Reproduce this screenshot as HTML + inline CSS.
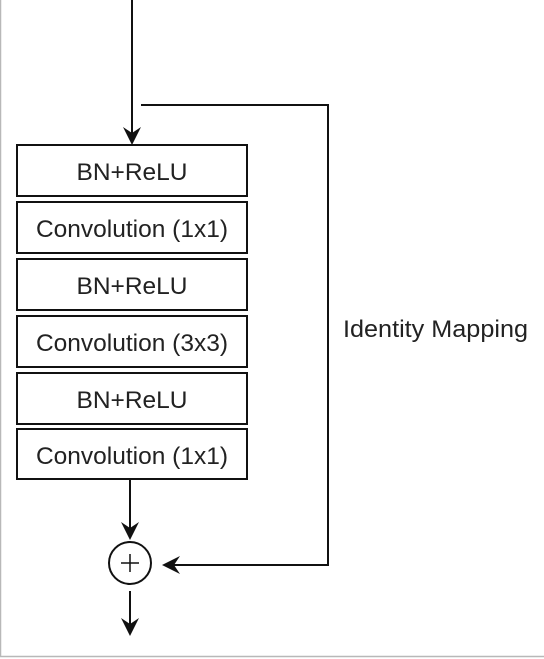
<!DOCTYPE html>
<html><head><style>
html,body{margin:0;padding:0;background:#fff;}
body{width:544px;height:659px;overflow:hidden;}
svg{display:block;}
text{font-family:"Liberation Sans",sans-serif;fill:#222;}
</style></head><body>
<svg width="544" height="659" viewBox="0 0 544 659">
<line x1="0.5" y1="0" x2="0.5" y2="657" stroke="#b8b8b8" stroke-width="1.5"/>
<line x1="0" y1="656.5" x2="544" y2="656.5" stroke="#b8b8b8" stroke-width="1.5"/>
<g stroke="#111" stroke-width="2" fill="none">
<line x1="132" y1="0" x2="132" y2="135"/>
<polyline points="141,105 328,105 328,565 172,565"/>
<line x1="130" y1="479" x2="130" y2="530"/>
<circle cx="130" cy="563" r="21"/>
<line x1="130" y1="591" x2="130" y2="625"/>
<line x1="121" y1="563" x2="139" y2="563" stroke-width="1.5"/>
<line x1="130" y1="554" x2="130" y2="572" stroke-width="1.5"/>
</g>
<g fill="#111">
<polygon points="123,127 132,145 141,127 132,133"/>
<polygon points="121,522 130,540 139,522 130,528"/>
<polygon points="121,618 130,636 139,618 130,624"/>
<polygon points="180,556 162,565 180,574 174,565"/>
</g>
<g stroke="#111" stroke-width="2" fill="#fff">
<rect x="17" y="145" width="230" height="51"/>
<rect x="17" y="202" width="230" height="51"/>
<rect x="17" y="259" width="230" height="51"/>
<rect x="17" y="316" width="230" height="51"/>
<rect x="17" y="373" width="230" height="51"/>
<rect x="17" y="429" width="230" height="50"/>
</g>
<g font-size="24.5" text-anchor="middle">
<text x="132" y="180">BN+ReLU</text>
<text x="132" y="237">Convolution (1x1)</text>
<text x="132" y="294">BN+ReLU</text>
<text x="132" y="351">Convolution (3x3)</text>
<text x="132" y="408">BN+ReLU</text>
<text x="132" y="464">Convolution (1x1)</text>
</g>
<text x="343" y="337" font-size="24.5" textLength="185" lengthAdjust="spacingAndGlyphs">Identity Mapping</text>
</svg>
</body></html>
